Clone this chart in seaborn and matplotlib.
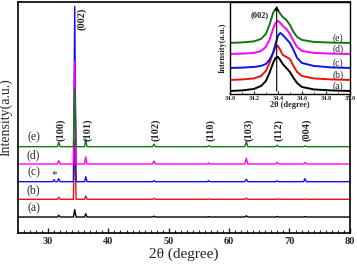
import matplotlib
matplotlib.use("Agg")
import numpy as np
import pandas as pd
import matplotlib.pyplot as plt
import seaborn as sns
from matplotlib.ticker import MultipleLocator

# --- main pattern data (2theta points around each reflection, heights in a.u.) ---
two_theta = [25.0,
             30.8, 31.0, 31.2,      # * impurity
             31.55, 31.77, 32.0,    # (100)
             34.2, 34.42, 34.65,    # (002)
             36.05, 36.25, 36.45,   # (101)
             47.3, 47.54, 47.8,     # (102)
             56.4, 56.6, 56.8,      # (110)
             62.6, 62.86, 63.1,     # (103)
             67.75, 67.96, 68.2,    # (112)
             72.35, 72.56, 72.8,    # (004)
             80.0]

int_a = [0, 0, 0, 0, 0, 1.7, 0, 0, 7.3, 0, 0, 3.3, 0, 0, 0.8, 0, 0, 0.4, 0, 0, 1.2, 0, 0, 0.6, 0, 0, 0.4, 0, 0]
int_b = [0, 0, 0, 0, 0, 2.0, 0, 0, 60, 0, 0, 3.3, 0, 0, 1.0, 0, 0, 0.4, 0, 0, 1.2, 0, 0, 0.5, 0, 0, 0.3, 0, 0]
int_c = [0, 0, 2.0, 0, 0, 3.0, 0, 0, 175, 0, 0, 5.0, 0, 0, 1.0, 0, 0, 1.0, 0, 0, 2.3, 0, 0, 0.8, 0, 0, 3.0, 0, 0]
int_d = [0, 0, 0, 0, 0, 3.3, 0, 0, 103, 0, 0, 7.0, 0, 0, 3.0, 0, 0, 1.0, 0, 0, 5.7, 0, 0, 1.5, 0, 0, 1.5, 0, 0]
int_e = [0, 0, 0, 0, 0, 4.3, 0, 0, 58, 0, 0, 7.7, 0, 0, 2.5, 0, 0, 1.0, 0, 0, 5.0, 0, 0, 1.5, 0, 0, 0.7, 0, 0]

samples = ["(a)", "(b)", "(c)", "(d)", "(e)"]
colors = ["black", "#ee1111", "#1111ee", "#ff00ff", "#117711"]

peak_names = ["(100)", "(002)", "(101)", "(102)", "(110)", "(103)", "(112)", "(004)"]
peak_pos = [31.77, 34.42, 36.25, 47.54, 56.6, 62.86, 67.96, 72.56]

# --- inset (002) zoom data ---
inset_theta = [34.00, 34.10, 34.20, 34.26, 34.30, 34.33, 34.36, 34.38, 34.40, 34.42,
               34.44, 34.47, 34.50, 34.53, 34.56, 34.60, 34.70, 34.85, 35.00]
inset_a = [0, 0.5, 2, 5, 10, 18, 28, 33, 34, 31, 27, 23, 19, 13, 8, 4, 1.5, 0.5, 0]
inset_b = [0, 0.5, 1.5, 4, 9, 17, 27, 33, 34, 30, 25, 23, 21, 14, 8, 4, 1.5, 0.5, 0]
inset_c = [0, 0.3, 1, 2, 4, 8, 15, 24, 32, 35, 33, 29, 25, 18, 10, 5, 2, 0.5, 0]
inset_d = [0, 0.3, 1, 3, 7, 14, 25, 31, 33, 31, 28, 25, 20, 13, 7, 3, 1, 0.3, 0]
inset_e = [0, 0.5, 1.5, 4, 9, 18, 30, 34, 33, 29, 26, 23, 18, 11, 6, 3, 1, 0.3, 0]

main_offsets = [0, 17.7, 35.3, 53, 70.3]
inset_offsets = [0, 11, 23, 37, 48]

sns.set_style("ticks")
plt.rcParams['font.family'] = ['Liberation Serif', 'DejaVu Serif']

# build long tables
rows = []
for s, ys, off in zip(samples, [int_a, int_b, int_c, int_d, int_e], main_offsets):
    for x, y in zip(two_theta, ys):
        rows.append({"theta": x, "I": y + off, "sample": s})
df = pd.DataFrame(rows)

rows = []
for s, ys, off in zip(samples, [inset_a, inset_b, inset_c, inset_d, inset_e], inset_offsets):
    for x, y in zip(inset_theta, ys):
        rows.append({"theta": x, "I": y + off, "sample": s})
df_in = pd.DataFrame(rows)

fig = plt.figure(figsize=(3.57, 2.70), dpi=100)
ax = fig.add_axes([0.050, 0.137, 0.930, 0.856])

sns.lineplot(data=df, x="theta", y="I", hue="sample", hue_order=samples,
             palette=colors, sort=False, linewidth=1.0, legend=False, ax=ax)
ax.set_xlim(25, 80)
ax.set_ylim(-16, 215)
ax.set_yticks([])
ax.xaxis.set_major_locator(MultipleLocator(10))
ax.xaxis.set_minor_locator(MultipleLocator(1))
ax.tick_params(axis='x', which='major', direction='in', length=3.5, width=1, labelsize=7.5, pad=3)
ax.tick_params(axis='x', which='minor', direction='in', length=2, width=0.8)
for lab in ax.get_xticklabels():
    lab.set_fontweight('bold')
for sp in ax.spines.values():
    sp.set_linewidth(1.2)
    sp.set_color('black')
ax.set_xlabel("2θ (degree)", fontsize=11, labelpad=1)
ax.set_ylabel("Intensity(a.u.)", fontsize=10, labelpad=4)

# sample labels
for s, off in zip(samples, main_offsets):
    ax.text(27.6, off + 9, s, fontsize=8.5, ha='center', va='center')

# peak labels
for name, pos in zip(peak_names, peak_pos):
    if name == "(002)":
        ax.text(pos + 1.2, 198, name, rotation=90, fontsize=7.5, fontweight='bold',
                ha='center', va='center')
    else:
        ax.text(pos + 0.3, 87, name, rotation=90, fontsize=7.5, fontweight='bold',
                ha='center', va='center')
ax.text(31.0, 42, "*", fontsize=8, ha='center', va='center')

# inset
ax_in = fig.add_axes([0.644, 0.652, 0.336, 0.341])
sns.lineplot(data=df_in, x="theta", y="I", hue="sample", hue_order=samples,
             palette=colors, sort=False, linewidth=1.4, legend=False, ax=ax_in)
ax_in.set_xlim(34.0, 35.0)
ax_in.set_ylim(-3, 89)
ax_in.set_yticks([])
ax_in.set_xticks([34.0, 34.2, 34.4, 34.6, 34.8, 35.0])
ax_in.set_xticklabels(["34.0", "34.2", "34.4", "34.6", "34.8", "35.0"])
ax_in.xaxis.set_minor_locator(MultipleLocator(0.1))
ax_in.tick_params(axis='x', which='major', direction='in', length=2.5, width=0.8, labelsize=4.5, pad=1.5)
ax_in.tick_params(axis='x', which='minor', direction='in', length=1.5, width=0.6)
for lab in ax_in.get_xticklabels():
    lab.set_fontweight('bold')
for sp in ax_in.spines.values():
    sp.set_linewidth(1.0)
    sp.set_color('black')
ax_in.set_xlabel("2θ (degree)", fontsize=6, fontweight='bold', labelpad=0)
ax_in.set_ylabel("Intensity(a.u.)", fontsize=6, fontweight='bold', labelpad=2)
ax_in.annotate("", xy=(34.39, 88), xytext=(34.39, -3),
               arrowprops=dict(arrowstyle='-|>', color='black', lw=0.8, mutation_scale=6))
ax_in.text(34.25, 76, "(002)", fontsize=6, fontweight='bold', ha='center', va='center')
for s, off in zip(samples, inset_offsets):
    ax_in.text(34.9, off + 5, s, fontsize=7, ha='center', va='center')

fig.savefig("out.png", dpi=100)
